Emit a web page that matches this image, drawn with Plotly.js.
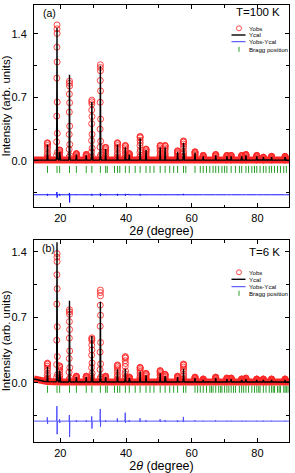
<!DOCTYPE html>
<html><head><meta charset="utf-8">
<script src="https://cdn.plot.ly/plotly-3.0.1.min.js"></script>
<style>html,body{margin:0;padding:0;background:#fff}#chart{width:295px;height:473px}</style>
</head><body><div id="chart"></div>
<script>
// ---------- Data ----------
// Panel (a): T = 100 K
const peakPosA = [16.1, 19.0, 19.8, 22.8, 24.9, 27.9, 29.6, 32.2, 33.8, 37.4, 39.8, 41.0, 44.3, 46.1, 50.4, 51.9, 55.7, 57.5, 61.0, 63.5, 67.3, 70.7, 72.0, 75.2, 76.5, 79.8, 81.8, 84.3, 88.4];
const obsA     = [0.20, 1.50, 0.12, 0.88, 0.08, 0.07, 0.67, 1.06, 0.15, 0.20, 0.17, 0.08, 0.27, 0.13, 0.17, 0.17, 0.11, 0.22, 0.10, 0.06, 0.07, 0.06, 0.06, 0.06, 0.07, 0.06, 0.04, 0.05, 0.05];
const calA     = [0.18, 1.47, 0.10, 0.95, 0.07, 0.06, 0.65, 1.05, 0.13, 0.18, 0.15, 0.07, 0.25, 0.12, 0.15, 0.15, 0.10, 0.20, 0.09, 0.05, 0.06, 0.05, 0.05, 0.05, 0.06, 0.05, 0.04, 0.04, 0.04];
const diffUpA  = [0.01, 0.03, 0.01, 0.02, 0.005, 0.005, 0.01, 0.015, 0.005, 0.01, 0.01, 0.005, 0.01, 0.005, 0.005, 0.005, 0.005, 0.01, 0.005, 0.003, 0.003, 0.003, 0.003, 0.003, 0.003, 0.003, 0.003, 0.003, 0.003];
const diffDnA  = [0.01, 0.03, 0.01, 0.085, 0.005, 0.005, 0.01, 0.015, 0.005, 0.01, 0.01, 0.005, 0.01, 0.005, 0.005, 0.005, 0.005, 0.005, 0.005, 0.003, 0.003, 0.003, 0.003, 0.003, 0.003, 0.003, 0.003, 0.003, 0.003];
const bgXA = [12, 90];
const bgYA = [0.008, 0.008];
const diffOffsetA = -0.375;
const braggYA = -0.095;
const braggPosA = [16.1, 19.0, 19.8, 22.8, 24.9, 27.9, 29.6, 32.2, 33.8, 34.3, 36.5, 37.4, 38.1, 39.8, 41.0, 42.8, 44.3, 46.1, 47.3, 48.5, 50.4, 51.9, 53.3, 54.5, 55.7, 57.5, 58.2, 61.0, 62.6, 63.5, 64.5, 65.5, 66.5, 67.3, 68.2, 69.2, 70.0, 70.7, 72.0, 73.3, 74.5, 75.2, 76.5, 77.3, 78.3, 79.1, 79.8, 80.8, 81.8, 82.6, 83.6, 84.3, 85.2, 86.1, 87.0, 88.0, 88.8];

// Panel (b): T = 6 K
const peakPosB = [16.1, 19.0, 19.8, 22.8, 24.9, 27.9, 29.6, 32.2, 33.8, 37.4, 39.8, 41.0, 44.3, 46.1, 50.4, 51.9, 55.7, 57.5, 61.0, 63.5, 67.3, 70.7, 72.0, 75.2, 76.5, 79.8, 81.8, 84.3, 88.4];
const obsB     = [0.21, 1.38, 0.18, 0.78, 0.07, 0.07, 0.48, 0.99, 0.07, 0.19, 0.28, 0.06, 0.165, 0.10, 0.13, 0.09, 0.07, 0.20, 0.06, 0.04, 0.06, 0.05, 0.05, 0.04, 0.05, 0.04, 0.04, 0.04, 0.04];
const calB     = [0.17, 1.50, 0.13, 0.876, 0.06, 0.06, 0.50, 0.865, 0.06, 0.145, 0.15, 0.05, 0.12, 0.08, 0.10, 0.07, 0.06, 0.15, 0.05, 0.03, 0.05, 0.04, 0.04, 0.03, 0.04, 0.03, 0.03, 0.03, 0.03];
const diffUpB  = [0.04, 0.16, 0.02, 0.065, 0.01, 0.01, 0.05, 0.13, 0.01, 0.03, 0.09, 0.01, 0.03, 0.01, 0.02, 0.01, 0.01, 0.045, 0.01, 0.005, 0.01, 0.005, 0.005, 0.005, 0.005, 0.005, 0.005, 0.005, 0.005];
const diffDnB  = [0.03, 0.14, 0.02, 0.17, 0.01, 0.01, 0.08, 0.06, 0.01, 0.01, 0.02, 0.01, 0.01, 0.01, 0.01, 0.01, 0.01, 0.01, 0.005, 0.005, 0.005, 0.005, 0.005, 0.005, 0.005, 0.005, 0.005, 0.005, 0.005];
const bgXB = [12, 13, 14, 15, 16, 20, 90];
const bgYB = [0.04, 0.03, 0.022, 0.016, 0.012, 0.008, 0.008];
const diffOffsetB = -0.41;
const braggYB = -0.07;
const braggPosB = [16.1, 19.0, 19.8, 22.8, 24.9, 27.9, 29.6, 32.2, 33.8, 34.3, 36.5, 37.4, 38.1, 39.8, 41.0, 42.8, 44.3, 46.1, 47.3, 48.5, 50.4, 51.9, 53.3, 54.5, 55.7, 57.5, 58.2, 61.0, 61.8, 62.6, 63.5, 64.5, 65.5, 66.0, 66.5, 67.3, 68.2, 68.8, 69.2, 70.0, 70.7, 71.3, 72.0, 72.7, 73.3, 74.5, 75.2, 75.8, 76.5, 77.3, 78.3, 79.1, 79.8, 80.4, 80.8, 81.8, 82.6, 83.6, 84.3, 84.8, 85.2, 86.1, 86.6, 87.0, 88.0, 88.4, 88.8, 89.3];

const legendNames = ['Yobs', 'Ycal', 'Yobs-Ycal', 'Bragg position'];

// ---------- Building the traces from the data ----------
function bgAt(bx, by, x) {
  for (let i = 0; i < bx.length - 1; i++) {
    if (x >= bx[i] && x <= bx[i + 1]) {
      const t = (x - bx[i]) / (bx[i + 1] - bx[i]);
      return by[i] + t * (by[i + 1] - by[i]);
    }
  }
  return by[by.length - 1];
}
const SIG = 0.05;
function shape(d) { return Math.exp(-d * d / (2 * SIG * SIG)); }

function calcCurve(pos, h, bx, by) {
  const xs = [bx[0]], ys = [by[0]];
  for (let i = 1; i < bx.length; i++) { if (bx[i] < pos[0] - 0.3) { xs.push(bx[i]); ys.push(by[i]); } }
  pos.forEach((p, i) => {
    const b = bgAt(bx, by, p);
    [-0.3, -0.15, -0.1, -0.06, -0.03, 0, 0.03, 0.06, 0.1, 0.15, 0.3].forEach(d => {
      xs.push(p + d); ys.push(b + (h[i] - b) * shape(d));
    });
  });
  xs.push(bx[bx.length - 1]); ys.push(by[by.length - 1]);
  return {x: xs, y: ys};
}
function obsPoints(pos, h, bx, by) {
  const xs = [], ys = [];
  pos.forEach((p, i) => {
    const b = bgAt(bx, by, p);
    [-0.13, -0.1, -0.075, -0.05, -0.03, -0.012, 0, 0.018, 0.04, 0.065, 0.09, 0.12].forEach(d => {
      xs.push(p + d); ys.push(b + (h[i] - b) * shape(d));
    });
  });
  return {x: xs, y: ys};
}
function diffCurve(pos, up, dn, off) {
  const xs = [12], ys = [off];
  pos.forEach((p, i) => {
    xs.push(p - 0.12, p - 0.03, p + 0.03, p + 0.12);
    ys.push(off, off + up[i], off - dn[i], off);
  });
  xs.push(90); ys.push(off);
  return {x: xs, y: ys};
}

function panelTraces(xa, ya, pos, obs, cal, up, dn, bx, by, off, bpos, by0, blue) {
  const c = calcCurve(pos, cal, bx, by);
  const o = obsPoints(pos, obs, bx, by);
  const d = diffCurve(pos, up, dn, off);
  return [
    {x: bx, y: by, xaxis: xa, yaxis: ya, mode: 'lines', name: legendNames[0] + ' background',
     line: {color: 'rgba(255,20,20,0.92)', width: 7}, hoverinfo: 'skip', showlegend: false},
    {x: o.x, y: o.y, xaxis: xa, yaxis: ya, mode: 'markers', name: legendNames[0],
     marker: {symbol: 'circle-open', size: 6, color: 'rgba(255,40,40,0.85)', line: {width: 1}}},
    {x: c.x, y: c.y, xaxis: xa, yaxis: ya, mode: 'lines', name: legendNames[1],
     line: {color: 'black', width: 1.4}},
    {x: d.x, y: d.y, xaxis: xa, yaxis: ya, mode: 'lines', name: legendNames[2],
     line: {color: blue, width: 1}},
    {x: bpos, y: bpos.map(() => by0), xaxis: xa, yaxis: ya, mode: 'markers', name: legendNames[3],
     marker: {symbol: 'line-ns-open', size: 5, color: 'rgb(40,160,40)', line: {width: 1, color: 'rgb(40,160,40)'}}}
  ];
}

const traces = [].concat(
  panelTraces('x', 'y', peakPosA, obsA, calA, diffUpA, diffDnA, bgXA, bgYA, diffOffsetA, braggPosA, braggYA, 'rgb(20,20,255)'),
  panelTraces('x2', 'y2', peakPosB, obsB, calB, diffUpB, diffDnB, bgXB, bgYB, diffOffsetB, braggPosB, braggYB, 'rgb(80,80,255)')
);

// ---------- Layout ----------
const W = 295, H = 473;
const fx = px => px / W, fy = py => 1 - py / H;
const FONT = 'Liberation Sans, Arial, Helvetica, sans-serif';

function xAxis(anchor) {
  return {domain: [fx(34), fx(289)], range: [12, 89.6], anchor: anchor,
    tick0: 0, dtick: 20, ticks: 'inside', ticklen: 4, tickwidth: 1, tickcolor: 'black',
    minor: {dtick: 10, ticks: 'inside', ticklen: 2.5, tickcolor: 'black'},
    showline: true, mirror: 'ticks', linecolor: 'black', linewidth: 1,
    showgrid: false, zeroline: false, tickfont: {size: 11}, ticklabelstandoff: 1,
    title: {text: '2<i>θ</i> (degree)', font: {size: 12.5}, standoff: 3}};
}
function yAxis(anchor, top, bottom, r0, r1) {
  return {domain: [fy(bottom), fy(top)], range: [r0, r1], anchor: anchor,
    tick0: 0, dtick: 0.7, tickformat: '.1f', ticks: 'inside', ticklen: 4, tickwidth: 1, tickcolor: 'black',
    minor: {dtick: 0.35, ticks: 'inside', ticklen: 3, tickcolor: 'black'},
    showline: true, mirror: 'ticks', linecolor: 'black', linewidth: 1,
    showgrid: false, zeroline: false, tickfont: {size: 11}, ticklabelstandoff: 4,
    title: {text: 'Intensity (arb. units)', font: {size: 11.5}, standoff: 2}};
}

const annotations = [];
const shapes = [];
function addLegend(rows) {
  const textX = 247, symC = 239, lx0 = 231.5, lx1 = 245.5;
  rows.forEach((ry, i) => {
    annotations.push({xref: 'paper', yref: 'paper', x: fx(textX), y: fy(ry), xanchor: 'left', yanchor: 'middle',
      text: legendNames[i], showarrow: false, font: {size: 6.1, family: FONT, color: 'black'}});
  });
  shapes.push({type: 'circle', xref: 'paper', yref: 'paper', xsizemode: 'pixel', ysizemode: 'pixel',
    xanchor: fx(symC), yanchor: fy(rows[0]), x0: -2.5, x1: 2.5, y0: -2.5, y1: 2.5,
    line: {color: 'rgba(255,40,40,0.85)', width: 1}});
  shapes.push({type: 'line', xref: 'paper', yref: 'paper', x0: fx(lx0), x1: fx(lx1), y0: fy(rows[1]), y1: fy(rows[1]),
    line: {color: 'black', width: 1.4}});
  shapes.push({type: 'line', xref: 'paper', yref: 'paper', x0: fx(lx0), x1: fx(lx1), y0: fy(rows[2]), y1: fy(rows[2]),
    line: {color: 'rgb(60,60,255)', width: 1}});
  shapes.push({type: 'line', xref: 'paper', yref: 'paper', x0: fx(symC), x1: fx(symC), y0: fy(rows[3] - 2.5), y1: fy(rows[3] + 2.5),
    line: {color: 'rgb(40,160,40)', width: 1}});
}
addLegend([28.3, 35, 41.7, 49.3]);
addLegend([272.3, 279.3, 286.7, 293.3]);

annotations.push(
  {xref: 'paper', yref: 'paper', x: fx(41), y: fy(13), xanchor: 'left', yanchor: 'middle', text: '(a)', showarrow: false, font: {size: 10.5}},
  {xref: 'paper', yref: 'paper', x: fx(282), y: fy(12.5), xanchor: 'right', yanchor: 'middle', text: 'T=100 K', showarrow: false, font: {size: 11.5}},
  {xref: 'paper', yref: 'paper', x: fx(40), y: fy(248.5), xanchor: 'left', yanchor: 'middle', text: '(b)', showarrow: false, font: {size: 10.5}},
  {xref: 'paper', yref: 'paper', x: fx(282), y: fy(252), xanchor: 'right', yanchor: 'middle', text: 'T=6 K', showarrow: false, font: {size: 11.5}}
);

const layout = {
  width: W, height: H, margin: {l: 0, r: 0, t: 0, b: 0},
  paper_bgcolor: 'white', plot_bgcolor: 'white', showlegend: false,
  font: {family: FONT, size: 11, color: 'black'},
  xaxis: xAxis('y'), yaxis: yAxis('x', 5, 207, -0.51, 1.72),
  xaxis2: xAxis('y2'), yaxis2: yAxis('x2', 240, 441.7, -0.63, 1.525),
  annotations: annotations, shapes: shapes
};

Plotly.newPlot('chart', traces, layout, {staticPlot: true, displayModeBar: false});
</script>
</body></html>
